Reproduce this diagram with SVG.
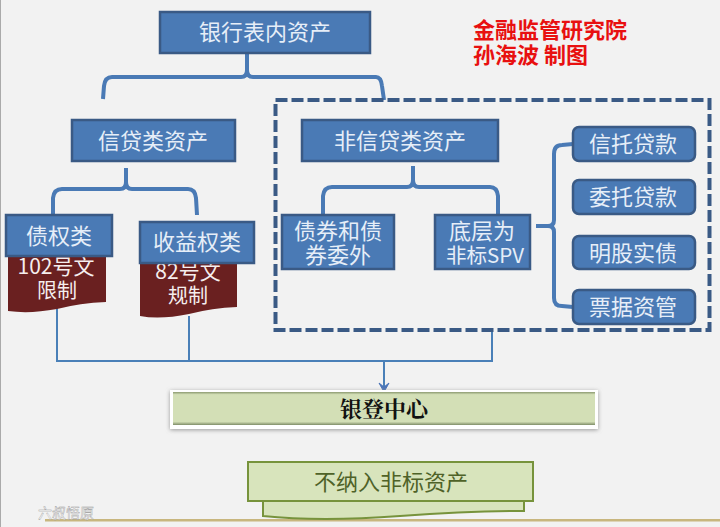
<svg xmlns="http://www.w3.org/2000/svg" width="720" height="527" viewBox="0 0 720 527">
<style>
text{font-family:"Noto Sans CJK SC","Liberation Sans",sans-serif;text-anchor:middle}
.b{fill:#4a7ab5;stroke:#3a5a85;stroke-width:2.5}
.w{fill:#e6eef8;font-size:22px}
.r{fill:#6a2020}
.t{fill:#f5eeee;font-size:21px}
.br{fill:none;stroke:#4a7ab5;stroke-width:4}
.ln{fill:none;stroke:#4a80b8;stroke-width:2}
</style>
<defs>
<linearGradient id="g" x1="0" y1="0" x2="0" y2="1"><stop offset="0" stop-color="#8c9a70"/><stop offset=".08" stop-color="#d3dfb6"/><stop offset=".9" stop-color="#d3dfb6"/><stop offset="1" stop-color="#7f8d68"/></linearGradient>
<filter id="s" x="-5%" y="-20%" width="110%" height="140%"><feGaussianBlur stdDeviation="2"/></filter>
</defs>
<rect width="720" height="527" fill="#f2f2f2"/>
<rect x="0" y="0" width="1" height="527" fill="#aaa"/>
<rect x="45" y="519" width="675" height="2.5" fill="#c8b67e"/>
<g id="connectors">
<path class="br" d="M247 54V70Q247 77 241 77H112Q105 77 104 86L103 99"/>
<path class="br" d="M247 54V70Q247 77 253 77H376Q381 77 382 86L384 100"/>
<path class="br" d="M126 168V182Q126 189 120 189H62Q54 189 53 198V214"/>
<path class="br" d="M126 168V182Q126 189 132 189H188Q195 189 196 198L197 215"/>
<path class="br" d="M413 166V180Q413 187 407 187H332Q324 187 323 196V214"/>
<path class="br" d="M413 166V180Q413 187 419 187H490Q497 187 498 196V214"/>
<path class="br" d="M536 226H548Q554 226 554 220V154Q554 145 562 145L573 144"/>
<path class="br" d="M536 226H548Q554 226 554 232V298Q554 306 562 306L573 307"/>
<path class="ln" d="M57 308V361H492V331M189 316V361M384 361V387"/>
<path d="M379 383L384 392L389 383L384 387Z" fill="#4a74b8" stroke="#4a74b8"/>
</g>
<rect x="275.500" y="100" width="434" height="230" fill="none" stroke="#3a5a85" stroke-width="4" stroke-dasharray="12 4"/>
<g id="n-root"><rect class="b" x="160" y="12" width="210" height="41"/><text class="w" x="265" y="40">银行表内资产</text></g>
<g id="n-credit"><rect class="b" x="72" y="120" width="163" height="41"/><text class="w" x="153" y="149">信贷类资产</text></g>
<g id="n-noncredit"><rect class="b" x="302" y="120" width="196" height="41"/><text class="w" x="400" y="149">非信贷类资产</text></g>
<g id="n-doc102"><path class="r" d="M8 250H106V302Q80 303 57 309Q30 314 8 311Z"/><text class="t"><tspan x="56" y="274">102号文</tspan><tspan x="57" y="298" font-size="20">限制</tspan></text></g>
<g id="n-doc82"><path class="r" d="M140 255H237V307Q212 308 189 314Q160 320 140 316Z"/><text class="t"><tspan x="188" y="279">82号文</tspan><tspan x="188" y="303" font-size="20">规制</tspan></text></g>
<g id="n-debt"><rect class="b" x="6" y="215" width="106" height="41"/><text class="w" x="59" y="244">债权类</text></g>
<g id="n-income"><rect class="b" x="140" y="222" width="114" height="41"/><text class="w" x="197" y="250">收益权类</text></g>
<g id="n-bond"><rect class="b" x="282" y="215" width="112" height="54"/><text class="w"><tspan x="338" y="239">债券和债</tspan><tspan x="338" y="263">券委外</tspan></text></g>
<g id="n-spv"><rect class="b" x="435" y="215" width="95" height="54"/><text class="w"><tspan x="482" y="239">底层为</tspan><tspan x="485" y="263" font-size="20.500">非标SPV</tspan></text></g>
<g id="n-trust"><rect class="b" x="573" y="127" width="122" height="34" rx="6"/><text class="w" x="633" y="152">信托贷款</text></g>
<g id="n-entrust"><rect class="b" x="573" y="180" width="122" height="34" rx="6"/><text class="w" x="633" y="205">委托贷款</text></g>
<g id="n-stock"><rect class="b" x="573" y="236" width="122" height="33" rx="6"/><text class="w" x="633" y="261">明股实债</text></g>
<g id="n-bill"><rect class="b" x="573" y="290" width="122" height="34" rx="6"/><text class="w" x="633" y="315">票据资管</text></g>
<g id="n-center"><rect x="170" y="391" width="428" height="39" fill="#999" filter="url(#s)"/><rect x="170" y="390" width="428" height="39" fill="#fff"/><rect x="173" y="392" width="422" height="33" fill="url(#g)"/><text x="384" y="417" font-size="22" font-weight="700" fill="#111" style="font-family:'Noto Serif CJK SC','Noto Sans CJK SC',serif">银登中心</text></g>
<g id="n-exclude"><path d="M263 500V516Q320 522 400 516Q470 511 524 511V500Z" fill="#d8e4bc" stroke="#77933c" stroke-width="2"/><rect x="248" y="462" width="285" height="39" fill="#d8e4bc" stroke="#77933c" stroke-width="2"/><text x="391" y="490" font-size="22" fill="#4f6228">不纳入非标资产</text></g>
<g id="title"><text x="473" y="38" font-size="22" font-weight="700" fill="#e81010" style="text-anchor:start">金融监管研究院</text><text x="473" y="63" font-size="22" font-weight="700" fill="#e81010" style="text-anchor:start">孙海波 制图</text></g>
<text x="66" y="518" font-size="14" fill="#fff" stroke="#999" stroke-width=".4">六叔悟原</text>
</svg>
